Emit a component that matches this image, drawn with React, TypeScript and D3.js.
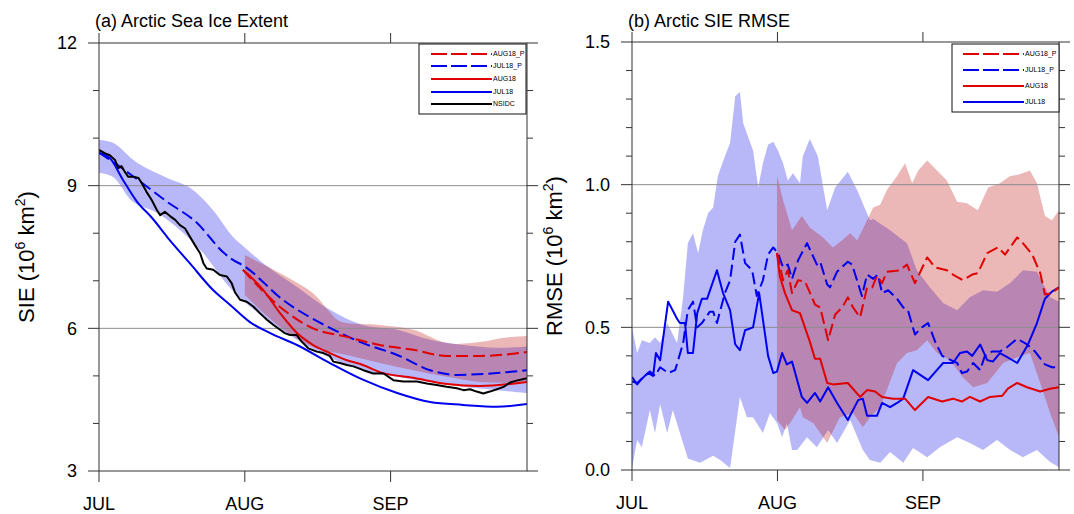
import React from "react";
import * as d3 from "d3";

type P = [number, number];

// ---------- axis data ----------
const monthTicks = [0, 31, 62];
const monthLabels = ["JUL", "AUG", "SEP"];
const dayDomain: P = [0, 91];

const sieDomain: P = [3, 12];
const sieTicks = [3, 6, 9, 12];
const sieGrid = [6, 9];
const rmseDomain: P = [0, 1.5];
const rmseTicks = [0, 0.5, 1.0, 1.5];
const rmseGrid = [0.5, 1.0];

const labelsA = ["AUG18_P", "JUL18_P", "AUG18", "JUL18", "NSIDC"];
const labelsB = ["AUG18_P", "JUL18_P", "AUG18", "JUL18"];

// ---------- panel (a): sea ice extent (day since Jul 1, 10^6 km2) ----------
const sieNSIDC: P[] = [
  [0, 9.75], [1.3, 9.68], [2.3, 9.64], [3.4, 9.54], [4.1, 9.37], [4.8, 9.41], [5.5, 9.29], [6.2, 9.19],
  [7.3, 9.19], [8.4, 9.16], [9.1, 9.05], [10.1, 8.87], [11.2, 8.7], [12.3, 8.49], [13, 8.38], [14, 8.45],
  [15.1, 8.36], [16.2, 8.28], [17.2, 8.17], [18.3, 8.1], [19.3, 7.93], [20.4, 7.75], [21.5, 7.58], [22.2, 7.37],
  [22.9, 7.26], [24.3, 7.23], [25.7, 7.12], [27.2, 7.09], [28.2, 6.95], [28.9, 6.76], [30, 6.6], [31.4, 6.56],
  [32.8, 6.46], [34.2, 6.32], [35.7, 6.18], [37.1, 6.07], [38.5, 5.97], [39.5, 5.9], [40.6, 5.86], [42, 5.86],
  [43.1, 5.72], [44.5, 5.58], [46.3, 5.51], [47.7, 5.48], [49.1, 5.42], [49.8, 5.3], [51.2, 5.27], [52.7, 5.23],
  [54.1, 5.2], [56.2, 5.12], [58.3, 5.05], [60.5, 5.05], [62.6, 4.91], [64.7, 4.88], [67.6, 4.88], [69.7, 4.84],
  [71.8, 4.81], [73.9, 4.77], [76.1, 4.74], [77.5, 4.7], [78.9, 4.72], [80.3, 4.67], [81.7, 4.63], [83.1, 4.67],
  [84.6, 4.72], [86, 4.77], [87.4, 4.86], [88.8, 4.9], [91, 4.95],
];
const sieJUL18: P[] = [
  [0, 9.69], [2.3, 9.58], [5.1, 9.12], [8.1, 8.66], [11.3, 8.32], [14.5, 7.92], [19.3, 7.37], [24.2, 6.81],
  [27.9, 6.49], [32.1, 6.13], [36.4, 5.9], [42.1, 5.65], [49.1, 5.27], [56.1, 4.92], [63.4, 4.64], [70.4, 4.45],
  [77.4, 4.39], [84.6, 4.35], [91, 4.41],
];
const sieJUL18P: P[] = [
  [0, 9.69], [3, 9.5], [8.3, 9.12], [14.5, 8.66], [20.8, 8.22], [26.4, 7.6], [28, 7.47], [31, 7.3],
  [39.1, 6.6], [49.1, 6.01], [56.1, 5.69], [63.4, 5.44], [70.4, 5.12], [76.1, 5.02], [84.6, 5.06], [91, 5.12],
];
const sieAUG18: P[] = [
  [30.6, 7.23], [34.9, 6.81], [38.5, 6.32], [42.1, 5.9], [45.5, 5.65], [49.1, 5.48], [52.7, 5.33], [56.1, 5.23],
  [59.7, 5.08], [66.8, 4.96], [74, 4.83], [81, 4.79], [91, 4.87],
];
const sieAUG18P: P[] = [
  [30.6, 7.23], [38.5, 6.45], [45.5, 6.0], [52.7, 5.82], [59.7, 5.65], [66.8, 5.55], [74, 5.42], [81, 5.42], [91, 5.5],
];
const sieJUL18Upper: P[] = [
  [0, 9.96], [3, 9.9], [8.1, 9.48], [14.5, 9.16], [19.4, 8.95], [24.2, 8.49], [28.5, 7.92], [31, 7.7],
  [34.9, 7.37], [42.1, 6.87], [49.1, 6.39], [56.1, 6.07], [63.4, 5.97], [70.4, 5.76], [77.4, 5.65], [84.6, 5.59], [91, 5.62],
];
const sieJUL18Lower: P[] = [
  [0, 9.27], [3, 9.18], [7.2, 8.66], [12.3, 8.43], [17.2, 8.07], [22, 7.6], [27.9, 6.85], [34.9, 6.24],
  [42.1, 5.76], [49.1, 5.38], [56.1, 5.12], [63.4, 4.98], [70.4, 4.87], [77.4, 4.77], [84.6, 4.7], [91, 4.64],
];
const sieAUG18Upper: P[] = [
  [31, 7.54], [38.5, 7.16], [45.5, 6.74], [49, 6.35], [51.2, 6.15], [59.7, 6.07], [66.8, 5.97], [74, 5.69],
  [81, 5.71], [86, 5.8], [91, 5.84],
];
const sieAUG18Lower: P[] = [
  [31, 6.7], [38.5, 6.03], [45.5, 5.61], [52.7, 5.44], [59.7, 5.27], [66.8, 5.12], [74, 4.98], [81, 4.87], [91, 4.85],
];

// ---------- panel (b): RMSE ----------
const rmseJUL18: P[] = [
  [0, 0.326], [1.1, 0.3], [2.1, 0.32], [3.4, 0.34], [4.5, 0.33], [5.1, 0.41], [6.0, 0.385], [7.7, 0.59],
  [9.6, 0.53], [10.2, 0.515], [11.3, 0.515], [11.9, 0.41], [13.0, 0.41], [13.9, 0.55], [14.9, 0.6], [16.0, 0.6],
  [18.1, 0.7], [19.4, 0.62], [20.9, 0.56], [22.0, 0.44], [23.0, 0.42], [24.1, 0.49], [25.8, 0.5], [27.1, 0.62],
  [29.0, 0.4], [30.1, 0.34], [30.9, 0.345], [32.0, 0.41], [33.0, 0.37], [34.1, 0.38], [36.2, 0.256], [37.3, 0.235],
  [39.0, 0.27], [40.1, 0.24], [41.8, 0.29], [43.7, 0.235], [46.0, 0.175], [48.2, 0.245], [49.2, 0.25], [50.1, 0.19],
  [51.2, 0.19], [52.2, 0.19], [53.3, 0.235], [55.0, 0.22], [56.5, 0.235], [57.8, 0.25], [59.9, 0.35], [63.1, 0.315],
  [66.3, 0.375], [68.4, 0.375], [69.9, 0.41], [71.4, 0.415], [72.5, 0.4], [74.2, 0.44], [75.7, 0.385], [76.9, 0.38],
  [78.4, 0.41], [79.5, 0.4], [82.1, 0.375], [84.4, 0.44], [86.3, 0.515], [88.0, 0.6], [89.5, 0.625], [91, 0.64],
];
const rmseJUL18P: P[] = [
  [0, 0.31], [1.1, 0.305], [3.8, 0.345], [4.9, 0.33], [6.0, 0.36], [7.7, 0.34], [9.2, 0.35], [10.9, 0.445],
  [11.9, 0.56], [13.0, 0.59], [13.9, 0.5], [14.9, 0.515], [16.6, 0.555], [17.3, 0.555], [18.1, 0.515], [19.8, 0.62],
  [20.9, 0.665], [22.0, 0.8], [23.0, 0.825], [24.1, 0.725], [25.6, 0.7], [26.6, 0.61], [27.9, 0.665], [29.0, 0.755],
  [30.1, 0.78], [31.1, 0.76], [32.2, 0.71], [33.2, 0.72], [34.1, 0.67], [35.4, 0.735], [37.3, 0.795], [39.4, 0.72],
  [40.1, 0.73], [41.6, 0.65], [42.2, 0.64], [43.7, 0.695], [46.0, 0.73], [46.9, 0.72], [49.0, 0.61], [50.1, 0.685],
  [51.4, 0.67], [52.4, 0.685], [53.3, 0.62], [54.6, 0.63], [56.5, 0.6], [57.8, 0.57], [58.8, 0.56], [60.3, 0.475],
  [61.8, 0.5], [63.1, 0.515], [64.6, 0.45], [66.1, 0.4], [67.3, 0.39], [69.3, 0.375], [70.3, 0.34], [71.4, 0.345],
  [72.7, 0.375], [74.2, 0.35], [75.2, 0.4], [76.7, 0.415], [78.4, 0.415], [79.9, 0.43], [82.1, 0.46], [84.2, 0.44],
  [85.9, 0.415], [88.0, 0.37], [89.5, 0.36], [91, 0.36],
];
const rmseAUG18: P[] = [
  [30.9, 0.76], [31.5, 0.68], [32.6, 0.62], [34.1, 0.56], [35.8, 0.55], [37.9, 0.45], [39.0, 0.39], [40.1, 0.39],
  [41.6, 0.305], [42.8, 0.3], [46.0, 0.305], [48.6, 0.256], [50.1, 0.28], [51.8, 0.275], [53.3, 0.256], [55.6, 0.25],
  [58.2, 0.25], [60.3, 0.21], [63.1, 0.256], [66.1, 0.24], [68.4, 0.25], [70.3, 0.24], [72.0, 0.256], [74.2, 0.24],
  [76.3, 0.256], [78.9, 0.26], [80.1, 0.285], [82.1, 0.305], [84.2, 0.29], [87.0, 0.275], [89.1, 0.285], [91, 0.29],
];
const rmseAUG18P: P[] = [
  [30.9, 0.76], [32.2, 0.665], [33.2, 0.7], [34.1, 0.62], [35.4, 0.665], [36.9, 0.66], [39.0, 0.58], [40.1, 0.57],
  [41.8, 0.455], [43.3, 0.545], [44.8, 0.57], [46.0, 0.605], [47.1, 0.57], [48.6, 0.535], [50.1, 0.64], [51.2, 0.64],
  [52.2, 0.68], [53.3, 0.655], [54.3, 0.695], [57.1, 0.7], [58.6, 0.72], [60.3, 0.655], [62.9, 0.745], [64.6, 0.71],
  [67.1, 0.7], [68.4, 0.685], [70.5, 0.665], [72.5, 0.685], [73.7, 0.69], [75.7, 0.76], [78.0, 0.78], [79.5, 0.755],
  [82.1, 0.815], [83.3, 0.795], [85.3, 0.755], [87.0, 0.69], [88.0, 0.615], [89.5, 0.62], [91, 0.64],
];
const rmseJUL18Upper: P[] = [
  [0, 0.5], [1.1, 0.41], [2.1, 0.455], [3.8, 0.445], [4.9, 0.465], [6.0, 0.445], [7.5, 0.515], [9.6, 0.445],
  [10.9, 0.605], [11.9, 0.795], [13.0, 0.83], [14.1, 0.76], [15.1, 0.84], [16.2, 0.9], [17.3, 0.92], [18.3, 1.03],
  [19.8, 1.1], [20.9, 1.145], [22.0, 1.31], [23.0, 1.325], [23.7, 1.215], [25.8, 1.12], [26.9, 0.99], [27.9, 1.075],
  [29.0, 1.14], [30.1, 1.15], [31.1, 1.12], [32.2, 1.075], [33.2, 1.015], [34.3, 1.04], [35.8, 1.005], [36.4, 1.1],
  [37.9, 1.16], [39.6, 1.1], [41.6, 0.91], [43.3, 0.99], [46.0, 1.045], [48.0, 0.98], [50.7, 0.875], [51.4, 0.88],
  [55.0, 0.84], [58.6, 0.795], [60.7, 0.7], [63.5, 0.64], [66.3, 0.585], [69.3, 0.56], [72.0, 0.605], [74.8, 0.63],
  [77.8, 0.625], [80.6, 0.655], [83.3, 0.7], [86.3, 0.695], [89.1, 0.605], [91, 0.59],
];
const rmseJUL18Lower: P[] = [
  [0, 0.007], [1.1, 0.105], [2.1, 0.08], [3.8, 0.21], [4.9, 0.13], [6.0, 0.23], [7.5, 0.13], [8.7, 0.21],
  [11.9, 0.04], [14.5, 0.025], [17.3, 0.05], [18.8, 0.035], [20.9, 0.007], [23.0, 0.256], [24.5, 0.185], [25.8, 0.185],
  [27.9, 0.13], [29.4, 0.2], [30.9, 0.165], [32.0, 0.115], [33.0, 0.165], [34.1, 0.07], [35.2, 0.07], [37.3, 0.115],
  [39.4, 0.08], [41.8, 0.14], [43.7, 0.095], [46.5, 0.175], [49.2, 0.07], [50.7, 0.035], [52.9, 0.025], [55.0, 0.063],
  [57.8, 0.025], [59.9, 0.077], [62.9, 0.045], [65.6, 0.08], [69.3, 0.115], [72.0, 0.095], [74.8, 0.07], [77.8, 0.105],
  [80.6, 0.07], [83.3, 0.045], [86.3, 0.07], [89.1, 0.028], [91, 0.01],
];
const rmseAUG18Upper: P[] = [
  [30.9, 1.03], [32.2, 0.945], [34.1, 0.84], [36.2, 0.89], [37.9, 0.85], [40.7, 0.815], [42.8, 0.78], [44.8, 0.805],
  [46.5, 0.83], [48.0, 0.805], [50.1, 0.875], [51.4, 0.92], [52.9, 0.93], [54.3, 0.98], [56.5, 1.03], [58.2, 1.075],
  [59.7, 1.005], [61.0, 1.05], [62.9, 1.085], [65.0, 1.05], [67.1, 1.015], [69.3, 0.94], [71.4, 0.935], [73.7, 0.91],
  [75.9, 0.99], [78.4, 1.005], [80.6, 1.03], [82.3, 1.035], [84.8, 1.05], [86.3, 1.005], [88.0, 0.89], [89.5, 0.875], [91, 0.91],
];
const rmseAUG18Lower: P[] = [
  [30.9, 0.175], [32.6, 0.14], [34.1, 0.175], [35.8, 0.22], [36.4, 0.185], [38.6, 0.165], [41.6, 0.095], [44.3, 0.185],
  [47.1, 0.2], [49.2, 0.15], [50.7, 0.185], [52.9, 0.22], [56.5, 0.375], [58.6, 0.41], [60.7, 0.42], [62.9, 0.455],
  [65.0, 0.41], [67.8, 0.385], [70.5, 0.325], [72.7, 0.29], [75.7, 0.305], [79.1, 0.375], [82.1, 0.395], [84.8, 0.41],
  [87.0, 0.305], [89.1, 0.2], [91, 0.115],
];

// ---------- styling ----------
const FONT = "'Liberation Sans', Arial, Helvetica, sans-serif";
const RED = "#e00000";
const BLUE = "#0000f0";
const BAND_BLUE = "rgb(184,184,248)";
const BAND_RED = "rgb(188,18,18)";
const AXIS = "#333";
const GRID = "#8c8c8c";

type Series = { data: P[]; color: string; dashed: boolean; smooth: boolean };
type Band = { upper: P[]; lower: P[]; fill: string; opacity: number };

type PanelProps = {
  id: string;
  x0: number; x1: number; y0: number; y1: number;
  yDomain: P; yTicks: number[]; yGrid: number[]; minorStep: number;
  fmt: (v: number) => string;
  title: string; yTitle: string; yTitleX: number;
  bands: Band[]; series: Series[]; smoothBands: boolean;
  legendLabels: string[]; legendStyles: { color: string; dashed: boolean }[];
  legendBox: { x0: number; x1: number; y0: number; y1: number; rows: number[]; lx0: number; lx1: number };
};

function Panel(p: PanelProps) {
  const x = d3.scaleLinear().domain(dayDomain).range([p.x0, p.x1]);
  const y = d3.scaleLinear().domain(p.yDomain).range([p.y1, p.y0]);
  const mk = (curve: d3.CurveFactory) =>
    d3.line<P>().x((d) => x(d[0])).y((d) => y(d[1])).curve(curve);
  const bandCurve = p.smoothBands ? d3.curveCatmullRom : d3.curveLinear;
  const bandPath = (b: Band) => {
    const up = mk(bandCurve)(b.upper) as string;
    const lo = mk(bandCurve)([...b.lower].reverse()) as string;
    return up + "L" + lo.slice(1) + "Z";
  };
  const minors = d3.range(p.yDomain[0], p.yDomain[1] + 1e-9, p.minorStep);
  const lb = p.legendBox;
  return (
    <g>
      <defs>
        <clipPath id={p.id}>
          <rect x={p.x0} y={p.y0} width={p.x1 - p.x0} height={p.y1 - p.y0} />
        </clipPath>
      </defs>
      <g clipPath={`url(#${p.id})`}>
        {p.bands.map((b, i) => (
          <path key={i} d={bandPath(b)} fill={b.fill} fillOpacity={b.opacity} stroke="none" />
        ))}
        {p.yGrid.map((v) => (
          <line key={v} x1={p.x0} x2={p.x1} y1={y(v)} y2={y(v)} stroke={GRID} strokeWidth={1} />
        ))}
        {p.series.map((s, i) => (
          <path
            key={i}
            d={mk(s.smooth ? d3.curveMonotoneX : d3.curveLinear)(s.data) as string}
            fill="none"
            stroke={s.color}
            strokeWidth={2}
            strokeDasharray={s.dashed ? "12,5" : undefined}
            strokeLinejoin="round"
          />
        ))}
      </g>
      {/* frame */}
      <rect x={p.x0} y={p.y0} width={p.x1 - p.x0} height={p.y1 - p.y0} fill="none" stroke={AXIS} strokeWidth={1} />
      {/* y ticks both sides */}
      {minors.map((v, i) => {
        const major = p.yTicks.some((t) => Math.abs(t - v) < 1e-6);
        const len = major ? 11 : 6;
        return (
          <g key={i} stroke={AXIS} strokeWidth={1}>
            <line x1={p.x0 - len} x2={p.x0} y1={y(v)} y2={y(v)} />
            <line x1={p.x1} x2={p.x1 + len} y1={y(v)} y2={y(v)} />
          </g>
        );
      })}
      {p.yTicks.map((v) => (
        <text key={v} x={p.x0 - 22} y={y(v)} dy="0.36em" textAnchor="end" fontSize={18} fontFamily={FONT} fill="#000">
          {p.fmt(v)}
        </text>
      ))}
      {/* x ticks top & bottom */}
      {monthTicks.map((d, i) => (
        <g key={d}>
          <line x1={x(d)} x2={x(d)} y1={p.y1} y2={p.y1 + 11} stroke={AXIS} strokeWidth={1} />
          <line x1={x(d)} x2={x(d)} y1={p.y0 - 10} y2={p.y0} stroke={AXIS} strokeWidth={1} />
          <text x={x(d)} y={p.y1 + 39} textAnchor="middle" fontSize={18} fontFamily={FONT} fill="#000">
            {monthLabels[i]}
          </text>
        </g>
      ))}
      {/* title */}
      <text x={p.x0 - 4} y={27} fontSize={18} fontFamily={FONT} fill="#000">{p.title}</text>
      {/* y title */}
      <text
        transform={`translate(${p.yTitleX},${(p.y0 + p.y1) / 2}) rotate(-90)`}
        textAnchor="middle"
        fontSize={22}
        fontFamily={FONT}
        fill="#000"
      >
        {p.yTitle} (10
        <tspan fontSize={14} dy={-9}>6</tspan>
        <tspan dy={9}> km</tspan>
        <tspan fontSize={14} dy={-9}>2</tspan>
        <tspan dy={9}>)</tspan>
      </text>
      {/* legend */}
      <rect x={lb.x0} y={lb.y0} width={lb.x1 - lb.x0} height={lb.y1 - lb.y0} fill="#fff" stroke="#111" strokeWidth={1} />
      {p.legendLabels.map((lab, i) => {
        const st = p.legendStyles[i];
        const yy = lb.rows[i];
        return (
          <g key={lab}>
            <line
              x1={lb.lx0}
              x2={lb.lx1}
              y1={yy}
              y2={yy}
              stroke={st.color}
              strokeWidth={2}
              strokeDasharray={st.dashed ? "16,4" : undefined}
            />
            <text x={lb.lx1 + 1} y={yy} dy="0.35em" fontSize={7} fontFamily={FONT} fill="#000">
              {lab}
            </text>
          </g>
        );
      })}
    </g>
  );
}

export default function App() {
  const styleA = [
    { color: RED, dashed: true },
    { color: BLUE, dashed: true },
    { color: RED, dashed: false },
    { color: BLUE, dashed: false },
    { color: "#000", dashed: false },
  ];
  return (
    <svg
      width={1074}
      height={514}
      viewBox="0 0 1074 514"
      style={{ position: "absolute", left: 0, top: 0, background: "#fff" }}
    >
      <rect x={0} y={0} width={1074} height={514} fill="#fff" />
      <Panel
        id="clipA"
        x0={99} x1={527} y0={43} y1={471}
        yDomain={sieDomain} yTicks={sieTicks} yGrid={sieGrid} minorStep={1}
        fmt={(v) => String(v)}
        title="(a) Arctic Sea Ice Extent" yTitle="SIE" yTitleX={34}
        smoothBands={true}
        bands={[
          { upper: sieJUL18Upper, lower: sieJUL18Lower, fill: BAND_BLUE, opacity: 1 },
          { upper: sieAUG18Upper, lower: sieAUG18Lower, fill: BAND_RED, opacity: 0.3 },
        ]}
        series={[
          { data: sieJUL18, color: BLUE, dashed: false, smooth: true },
          { data: sieJUL18P, color: BLUE, dashed: true, smooth: true },
          { data: sieAUG18, color: RED, dashed: false, smooth: true },
          { data: sieAUG18P, color: RED, dashed: true, smooth: true },
          { data: sieNSIDC, color: "#000", dashed: false, smooth: false },
        ]}
        legendLabels={labelsA}
        legendStyles={styleA}
        legendBox={{ x0: 419, x1: 526, y0: 44, y1: 114, rows: [54, 66, 79, 92, 104], lx0: 431, lx1: 492 }}
      />
      <Panel
        id="clipB"
        x0={632} x1={1059} y0={42} y1={470}
        yDomain={rmseDomain} yTicks={rmseTicks} yGrid={rmseGrid} minorStep={0.1}
        fmt={(v) => v.toFixed(1)}
        title="(b) Arctic SIE RMSE" yTitle="RMSE" yTitleX={562}
        smoothBands={false}
        bands={[
          { upper: rmseJUL18Upper, lower: rmseJUL18Lower, fill: BAND_BLUE, opacity: 1 },
          { upper: rmseAUG18Upper, lower: rmseAUG18Lower, fill: BAND_RED, opacity: 0.3 },
        ]}
        series={[
          { data: rmseJUL18, color: BLUE, dashed: false, smooth: false },
          { data: rmseJUL18P, color: BLUE, dashed: true, smooth: false },
          { data: rmseAUG18, color: RED, dashed: false, smooth: false },
          { data: rmseAUG18P, color: RED, dashed: true, smooth: false },
        ]}
        legendLabels={labelsB}
        legendStyles={styleA.slice(0, 4)}
        legendBox={{ x0: 952, x1: 1059, y0: 44, y1: 112, rows: [54, 70, 86, 102], lx0: 963, lx1: 1024 }}
      />
    </svg>
  );
}
